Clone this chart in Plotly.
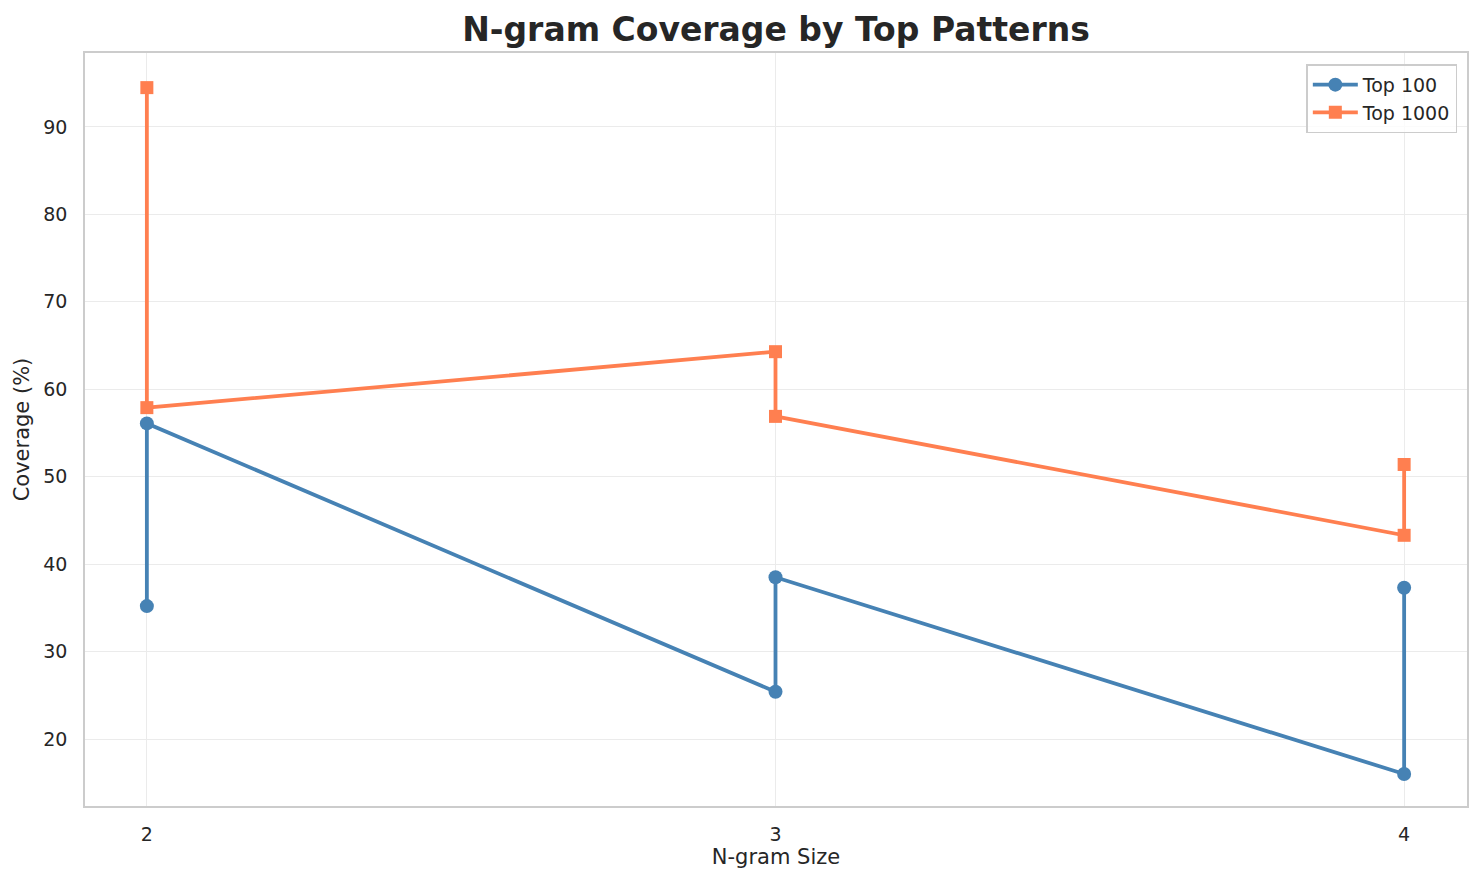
import plotly.graph_objects as go

# N-gram coverage data
ngram_size = [2, 2, 3, 3, 4, 4]
top100 = [35.2, 56.1, 25.4, 38.5, 16.0, 37.3]
top1000 = [94.5, 57.9, 64.3, 56.9, 43.3, 51.4]
xticks = [2, 3, 4]
yticks = [20, 30, 40, 50, 60, 70, 80, 90]

fig = go.Figure()
fig.add_trace(go.Scatter(
    x=ngram_size, y=top100, mode='lines+markers', name='Top 100',
    line=dict(color='#4682B4', width=3.8),
    marker=dict(symbol='circle', size=14, color='#4682B4')
))
fig.add_trace(go.Scatter(
    x=ngram_size, y=top1000, mode='lines+markers', name='Top 1000',
    line=dict(color='#FF7F50', width=3.8),
    marker=dict(symbol='square', size=13, color='#FF7F50')
))

axis_style = dict(
    showgrid=True, gridcolor='#EBEBEB', gridwidth=1.2,
    showline=True, linecolor='#CCCCCC', linewidth=1.5, mirror=True,
    zeroline=False, ticks='', tickfont=dict(size=19, color='#262626'),
)

# page body has an 8px margin, so the figure is sized/offset to compensate
fig.update_layout(
    width=1468, height=869,
    paper_bgcolor='white', plot_bgcolor='white',
    font=dict(family='DejaVu Sans', color='#262626'),
    title=dict(text='<b>N-gram Coverage by Top Patterns</b>', x=0.5, xref='paper',
               xanchor='center', y=0.975, yanchor='middle',
               font=dict(size=33, color='#262626')),
    margin=dict(l=77, r=7, t=45, b=71),
    xaxis=dict(axis_style, range=[1.9016, 4.1], tickvals=xticks, ticklabelstandoff=10,
               title=dict(text='N-gram Size', font=dict(size=21), standoff=6)),
    yaxis=dict(axis_style, range=[12.34, 98.46], tickvals=yticks, ticklabelstandoff=12,
               title=dict(text='Coverage (%)', font=dict(size=21), standoff=8)),
    legend=dict(x=0.993, y=0.985, xanchor='right', yanchor='top', itemwidth=45,
                bgcolor='rgba(255,255,255,0.8)', bordercolor='#CCCCCC', borderwidth=1.5,
                font=dict(size=19, color='#262626')),
    showlegend=True,
)

fig.write_html("out.html")
